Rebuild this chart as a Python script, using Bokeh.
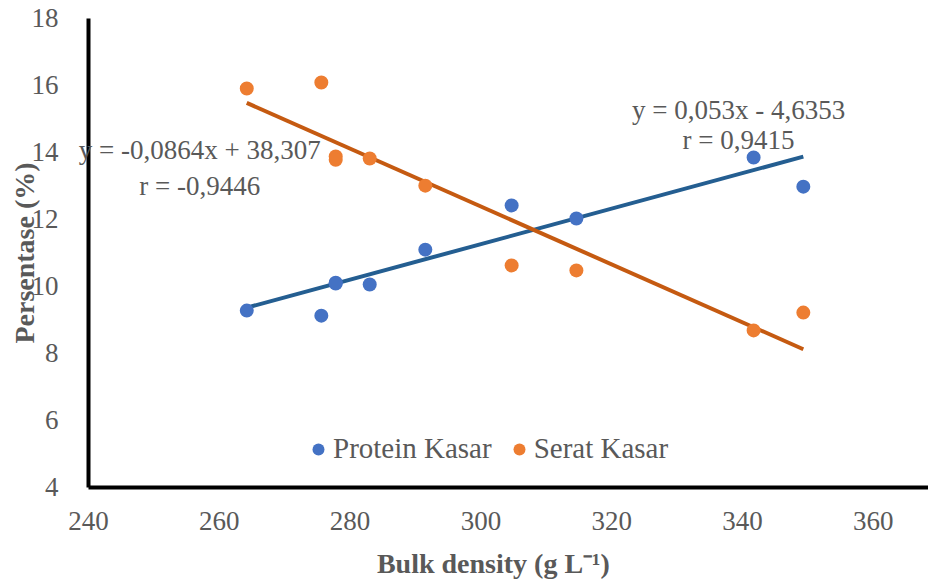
from bokeh.plotting import figure
from bokeh.models import Range1d, FixedTicker, Legend, LegendItem, Label
from bokeh.embed import file_html
from bokeh.resources import INLINE

# Data
bulk_density = [264.2, 275.6, 277.8, 277.8, 283.0, 291.5, 304.7, 314.6, 341.7, 349.3]
protein_kasar = [9.28, 9.13, 10.11, 10.09, 10.06, 11.10, 12.42, 12.03, 13.85, 12.98]
serat_kasar = [15.91, 16.09, 13.88, 13.78, 13.82, 13.01, 10.63, 10.48, 8.69, 9.22]

pk_slope, pk_int, pk_r = 0.053, -4.6353, "0,9415"
sk_slope, sk_int, sk_r = -0.0864, 38.307, "-0,9446"

x_ticks = [240, 260, 280, 300, 320, 340, 360]
y_ticks = [4, 6, 8, 10, 12, 14, 16, 18]
x_title = "Bulk density (g L\u207b\u00b9)"
y_title = "Persentase (%)"

X_MIN, X_MAX = 240, 368.44
Y_MIN, Y_MAX = 4, 18

FONT = "Liberation Serif"
GREY = "#595959"

# the frame covers the whole canvas; the axes are pinned at x=240 and y=4
p = figure(width=928, height=582, output_backend="svg", toolbar_location=None,
           x_range=Range1d(226.544, X_MAX), y_range=Range1d(1.164, 18.537),
           min_border=0, min_border_left=0, min_border_right=0,
           min_border_top=0, min_border_bottom=0)
p.outline_line_color = None
p.grid.visible = False
p.background_fill_color = "white"
p.border_fill_color = "white"

for ax in (p.xaxis[0], p.yaxis[0]):
    ax.axis_line_width = 4
    ax.axis_line_color = "black"
    ax.major_tick_line_color = None
    ax.minor_tick_line_color = None
    ax.major_label_text_font = FONT
    ax.major_label_text_font_size = "27px"
    ax.major_label_text_color = GREY
    ax.axis_label_text_font = FONT
    ax.axis_label_text_font_style = "bold"
    ax.axis_label_text_font_size = "28px"
    ax.axis_label_text_color = GREY

p.xaxis.fixed_location = Y_MIN
p.xaxis.bounds = (X_MIN, X_MAX)
p.yaxis.fixed_location = X_MIN
p.yaxis.bounds = (Y_MIN, Y_MAX)
p.xaxis.ticker = FixedTicker(ticks=x_ticks)
p.yaxis.ticker = FixedTicker(ticks=y_ticks)
p.xaxis.major_label_standoff = 19
p.yaxis.major_label_standoff = 24
p.yaxis.axis_label = y_title
p.yaxis.axis_label_standoff = -11

p.add_layout(Label(x=301.9, y=1.73, text=x_title, text_align="center", text_baseline="middle",
                   text_font=FONT, text_font_style="bold", text_font_size="28px",
                   text_color=GREY))

xmin, xmax = min(bulk_density), max(bulk_density)
p.line([xmin, xmax], [pk_slope * xmin + pk_int, pk_slope * xmax + pk_int],
       line_color="#245E91", line_width=4)
p.line([xmin, xmax], [sk_slope * xmin + sk_int, sk_slope * xmax + sk_int],
       line_color="#C55A11", line_width=4)

r_pk = p.scatter(bulk_density, protein_kasar, size=14, fill_color="#4472C4", line_color=None)
r_sk = p.scatter(bulk_density, serat_kasar, size=14, fill_color="#ED7D31", line_color=None)

legend = Legend(items=[LegendItem(label="Protein Kasar", renderers=[r_pk]),
                       LegendItem(label="Serat Kasar", renderers=[r_sk])],
                orientation="horizontal", location=(303, 117),
                glyph_width=30, glyph_height=30, label_standoff=0, spacing=12,
                padding=0, margin=0, border_line_color=None, background_fill_alpha=0,
                label_text_font=FONT, label_text_font_size="29px", label_text_color=GREY)
p.add_layout(legend, "center")

def eq(slope, inter):
    s = f"{slope}".replace(".", ",")
    sign = "+" if inter >= 0 else "-"
    i = f"{abs(inter)}".replace(".", ",")
    return f"y = {s}x {sign} {i}"

for txt, xx, yy in [(eq(pk_slope, pk_int), 339.4, 15.28), ("r = " + pk_r, 339.4, 14.36),
                    (eq(sk_slope, sk_int), 257.0, 14.06), ("r = " + sk_r, 257.0, 13.01)]:
    p.add_layout(Label(x=xx, y=yy, text=txt, text_align="center", text_baseline="middle",
                       text_font=FONT, text_font_size="27px", text_color=GREY))

open("out.html", "w").write(file_html(p, INLINE))
